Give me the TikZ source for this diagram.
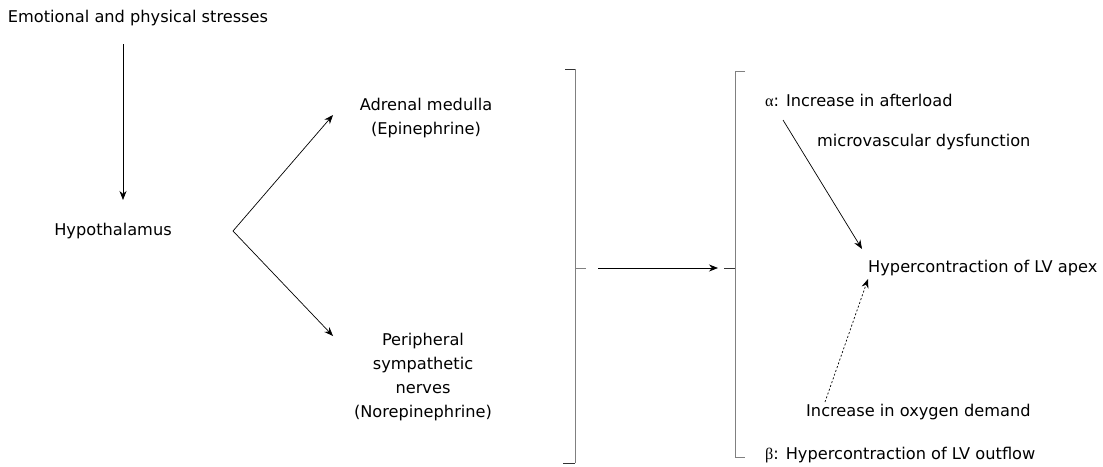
\documentclass[tikz,border=0pt]{standalone}
\usepackage{fontspec}
\setmainfont{DejaVu Sans}
\newfontfamily\grk{Liberation Serif}
\usetikzlibrary{arrows.meta}
\begin{document}
\begin{tikzpicture}[x=1pt,y=-1pt,
  txt/.style={inner sep=0pt,font=\fontsize{16.2}{19}\selectfont},
  arr/.style={draw=black,line width=0.7pt,-{Stealth[length=9pt,width=7pt]}},
  brk/.style={draw=gray,line width=1pt},
  tick/.style={draw=black!80,line width=1pt}]
\useasboundingbox (0,0) rectangle (1103,466);
\node[txt] (emo) at (138,18) {Emotional and physical stresses};
\node[txt] (hyp) at (113,231) {Hypothalamus};
\coordinate (v) at (233,231);
\node[txt,align=center] (adr) at (426,118) {Adrenal medulla\\[5pt](Epinephrine)};
\node[txt,align=center] (per) at (423,377) {Peripheral\\[5pt]sympathetic\\[5pt]nerves\\[5pt](Norepinephrine)};
\coordinate (a1) at (123,44);
\coordinate (a2) at (123,200);
\draw[arr] (a1) -- (a2);
\coordinate (u) at (333,115);
\coordinate (d) at (333,336);
\draw[arr] (v) -- (u);
\draw[arr] (v) -- (d);
% left bracket
\coordinate (lb1) at (565,69);
\coordinate (lb2) at (575,69);
\coordinate (lb3) at (575,463);
\coordinate (lb4) at (563,463);
\draw[brk] (lb2) -- (lb3);
\draw[tick] (lb1) -- (lb2);
\draw[tick] (lb3) -- (lb4);
\coordinate (lm1) at (575,268);
\coordinate (lm2) at (586,268);
\draw[brk] (lm1) -- (lm2);
\coordinate (m1) at (598,268);
\coordinate (m2) at (718,268);
\draw[arr] (m1) -- (m2);
% right bracket
\coordinate (rb1) at (745,71);
\coordinate (rb2) at (735,71);
\coordinate (rb3) at (735,457);
\coordinate (rb4) at (745,457);
\draw[brk] (rb2) -- (rb3);
\draw[brk] (rb1) -- (rb2);
\draw[brk] (rb3) -- (rb4);
\coordinate (rm1) at (724,268);
\coordinate (rm2) at (735,268);
\draw[tick] (rm1) -- (rm2);
\node[txt,anchor=west] (alpha) at (765,100) {{\grk α}: Increase in afterload};
\node[txt,anchor=west] (micro) at (817,142) {microvascular dysfunction};
\node[txt,anchor=west] (apex) at (868,268) {Hypercontraction of LV apex};
\node[txt,anchor=west] (oxy) at (806,412) {Increase in oxygen demand};
\node[txt,anchor=west] (beta) at (765,455) {{\grk β}: Hypercontraction of LV outflow};
\coordinate (s1) at (783,120);
\coordinate (s2) at (862,249);
\draw[arr] (s1) -- (s2);
\coordinate (o1) at (825,402);
\coordinate (o2) at (868,279);
\draw[arr,dash pattern=on 2pt off 2pt] (o1) -- (o2);
\end{tikzpicture}
\end{document}
